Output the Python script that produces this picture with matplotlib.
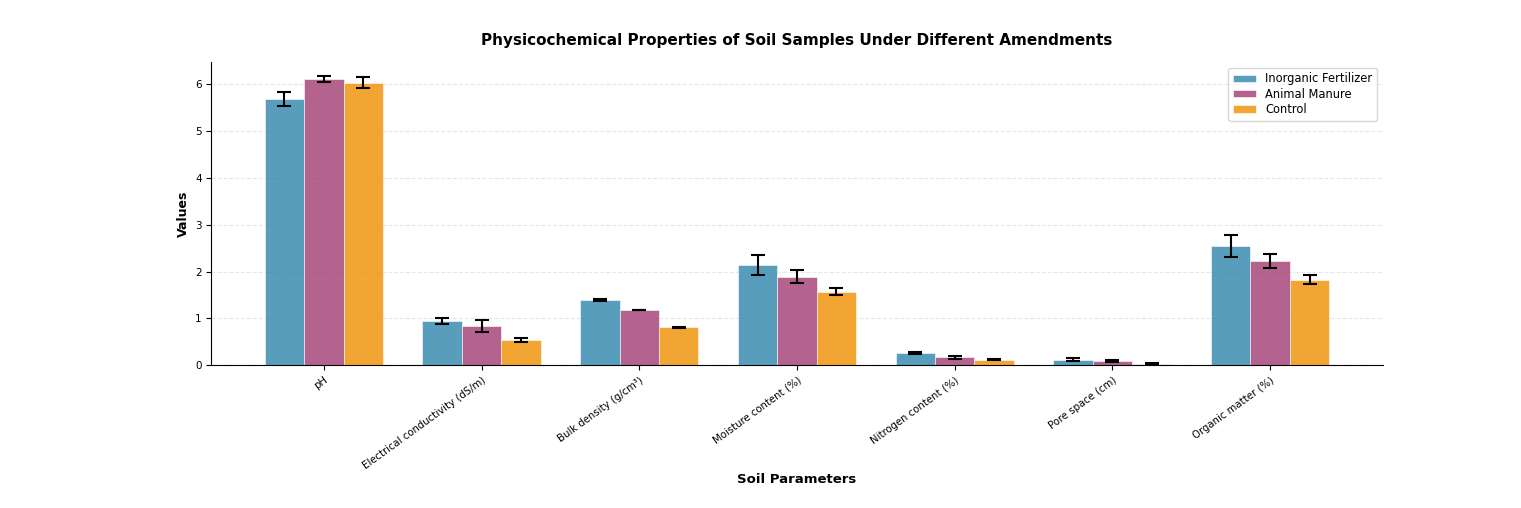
import numpy as np
import matplotlib
matplotlib.use("Agg")
from matplotlib import pyplot as plt

# Data
parameters = [
    "pH",
    "Electrical conductivity (dS/m)",
    "Bulk density (g/cm³)",
    "Moisture content (%)",
    "Nitrogen content (%)",
    "Pore space (cm)",
    "Organic matter (%)",
]
treatments = ["Inorganic Fertilizer", "Animal Manure", "Control"]

inorganic_mean = [5.68, 0.95, 1.39, 2.14, 0.26, 0.12, 2.55]
inorganic_err = [0.15, 0.06, 0.02, 0.21, 0.02, 0.03, 0.23]
manure_mean = [6.11, 0.83, 1.18, 1.89, 0.17, 0.09, 2.22]
manure_err = [0.06, 0.13, 0.01, 0.14, 0.03, 0.03, 0.15]
control_mean = [6.04, 0.54, 0.81, 1.57, 0.12, 0.03, 1.83]
control_err = [0.11, 0.04, 0.01, 0.07, 0.01, 0.01, 0.09]

colors = ["#2E86AB", "#A23B72", "#F18F01"]

fig, ax = plt.subplots(figsize=(15.21, 5.08), dpi=100)
fig.subplots_adjust(left=0.139, right=0.909, bottom=0.281, top=0.878)

x = np.arange(len(parameters))
width = 0.25
series = [
    (inorganic_mean, inorganic_err),
    (manure_mean, manure_err),
    (control_mean, control_err),
]
for i, ((mean, err), name) in enumerate(zip(series, treatments)):
    ax.bar(
        x + (i - 1) * width,
        mean,
        width,
        yerr=err,
        label=name,
        color=colors[i],
        alpha=0.8,
        edgecolor="white",
        linewidth=0.5,
        capsize=5,
        error_kw={"elinewidth": 1.5, "ecolor": "black", "capthick": 1.5},
    )

ax.set_title(
    "Physicochemical Properties of Soil Samples Under Different Amendments",
    fontsize=11, fontweight="bold", pad=12,
)
ax.set_xlabel("Soil Parameters", fontsize=9.5, fontweight="bold")
ax.xaxis.set_label_coords(0.5, -0.355)
ax.set_ylabel("Values", fontsize=9, fontweight="bold")
ax.set_xticks(x)
ax.set_xticklabels(parameters, rotation=36, ha="right", rotation_mode="anchor",
                   fontsize=7.3)
ax.tick_params(axis="y", labelsize=7.5)
ax.grid(axis="y", linestyle="--", alpha=0.3)
ax.set_axisbelow(True)
ax.spines["top"].set_visible(False)
ax.spines["right"].set_visible(False)
ax.legend(loc="upper right", fontsize=8.3, labelspacing=0.2,
          handleheight=0.6, borderpad=0.4)

fig.savefig("out.png", dpi=100)
